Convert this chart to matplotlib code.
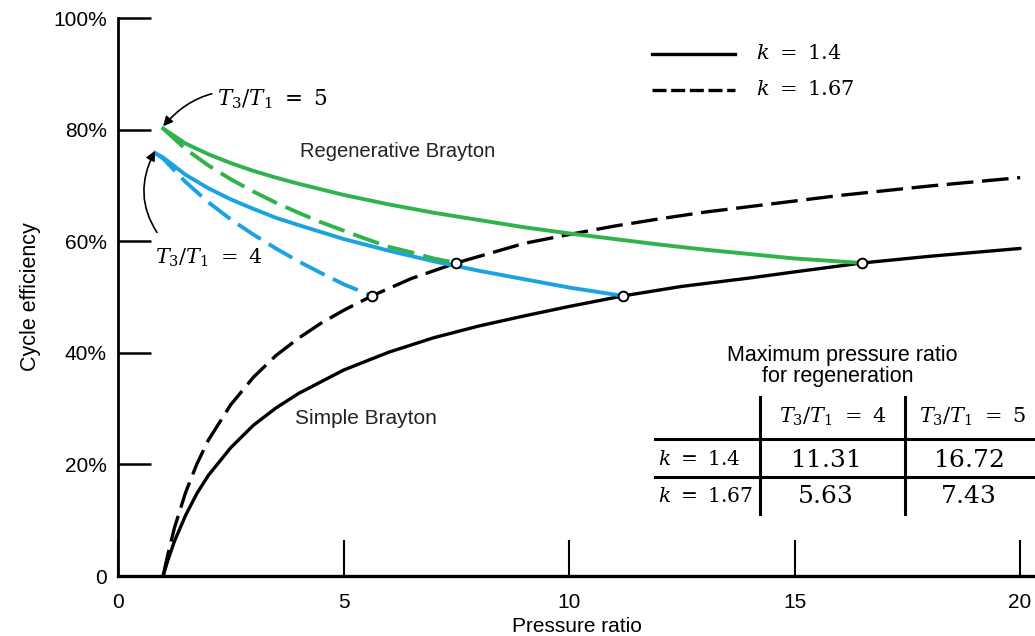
import matplotlib
matplotlib.use("Agg")
import matplotlib.pyplot as plt

plt.rcParams['mathtext.fontset'] = 'dejavuserif'
plt.rcParams['font.family'] = ['Liberation Sans', 'DejaVu Sans']

# ---- data ----
# Simple Brayton, k = 1.4 (solid)
simple14_x = [1.0, 1.1, 1.25, 1.5, 1.75, 2, 2.5, 3, 3.5, 4, 5, 6, 7, 8, 9, 10, 11.2,
              12.5, 14, 15, 16.5, 18, 20]
simple14_y = [0, 2.7, 6.2, 10.9, 14.8, 18.0, 23.0, 27.0, 30.1, 32.7, 36.9, 40.1, 42.7,
              44.8, 46.6, 48.3, 50.2, 51.9, 53.4, 54.5, 56.1, 57.3, 58.7]
# Simple Brayton, k = 1.67 (dashed)
simple167_x = [1.0, 1.1, 1.25, 1.5, 1.75, 2, 2.5, 3, 3.5, 4, 4.5, 5, 5.63, 6.5, 7.5,
               9, 10, 11, 12, 13, 14, 16, 18, 20]
simple167_y = [0, 3.7, 8.6, 15.0, 20.1, 24.3, 30.7, 35.6, 39.5, 42.6, 45.3, 47.6, 50.2,
               53.3, 56.1, 59.6, 61.2, 62.7, 64.0, 65.2, 66.2, 68.2, 69.9, 71.4]
# Regenerative, T3/T1 = 4, k = 1.4 (blue solid)
reg4_14_x = [0.82, 1, 1.5, 2, 2.5, 3, 3.5, 4, 5, 6, 7, 8, 9, 10, 11.2]
reg4_14_y = [75.8, 75.0, 71.9, 69.5, 67.5, 65.8, 64.2, 62.9, 60.4, 58.3, 56.4, 54.7,
             53.2, 51.7, 50.2]
# Regenerative, T3/T1 = 4, k = 1.67 (blue dashed)
reg4_167_x = [0.82, 1, 1.5, 2, 2.5, 3, 3.5, 4, 4.5, 5, 5.63]
reg4_167_y = [75.8, 74.8, 70.6, 67.0, 63.9, 61.2, 58.7, 56.4, 54.3, 52.3, 50.2]
# Regenerative, T3/T1 = 5, k = 1.4 (green solid)
reg5_14_x = [1.0, 1.5, 2, 2.5, 3, 3.5, 4, 5, 6, 7, 8, 9, 10, 11, 12, 13, 14, 15, 16.5]
reg5_14_y = [80.2, 77.5, 75.6, 74.0, 72.6, 71.4, 70.3, 68.3, 66.6, 65.1, 63.8, 62.5,
             61.4, 60.4, 59.4, 58.5, 57.7, 56.9, 56.1]
# Regenerative, T3/T1 = 5, k = 1.67 (green dashed)
reg5_167_x = [1.0, 1.5, 2, 2.5, 3, 3.5, 4, 4.5, 5, 5.5, 6, 6.5, 7, 7.5]
reg5_167_y = [80.2, 76.5, 73.6, 71.1, 68.9, 66.9, 65.1, 63.4, 61.9, 60.4, 59.0, 58.0,
              56.9, 56.1]
# Regeneration limit points
limit_x = [5.63, 7.5, 11.2, 16.5]
limit_y = [50.2, 56.1, 50.2, 56.1]

x_ticks = [0, 5, 10, 15, 20]
y_ticks = [0, 20, 40, 60, 80, 100]
y_ticklabels = ['0', '20%', '40%', '60%', '80%', '100%']

table_cols = [r'$T_3/T_1\ =\ 4$', r'$T_3/T_1\ =\ 5$']
table_rows = [r'$k\ =\ 1.4$', r'$k\ =\ 1.67$']
table_vals = [['11.31', '16.72'], ['5.63', '7.43']]

GREEN = '#2fb34a'
BLUE = '#1aa3e0'

fig = plt.figure(figsize=(10.35, 6.36), dpi=100)
ax = fig.add_axes([118/1035, 60/636, 917/1035, 558/636])
ax.set_xlim(0, 20.33)
ax.set_ylim(0, 100)

dash = (8, 2.6)
lw = 2.4
ax.plot(simple14_x, simple14_y, color='black', lw=lw, solid_capstyle='round')
ax.plot(simple167_x, simple167_y, color='black', lw=lw, dashes=dash)
ax.plot(reg4_14_x, reg4_14_y, color=BLUE, lw=2.8)
ax.plot(reg4_167_x, reg4_167_y, color=BLUE, lw=2.8, dashes=(7, 2.4))
ax.plot(reg5_14_x, reg5_14_y, color=GREEN, lw=2.8)
ax.plot(reg5_167_x, reg5_167_y, color=GREEN, lw=2.8, dashes=(7, 2.4))
ax.plot(limit_x, limit_y, 'o', ms=7, mfc='white', mec='black', mew=1.4, zorder=5)

# axes styling
for s in ['top', 'right']:
    ax.spines[s].set_visible(False)
ax.spines['left'].set_linewidth(2)
ax.spines['bottom'].set_linewidth(2.4)
ax.set_xticks(x_ticks)
ax.set_xticklabels([str(v) for v in x_ticks], fontsize=15)
ax.set_yticks(y_ticks)
ax.set_yticklabels(y_ticklabels, fontsize=15)
ax.tick_params(axis='x', direction='in', length=26, width=1.5, pad=12)
ax.tick_params(axis='y', direction='in', length=24, width=1.8, pad=8)
ax.set_xlabel('Pressure ratio', fontsize=15, labelpad=4)
ax.set_ylabel('Cycle efficiency', fontsize=15.5, labelpad=9)

# labels
ax.text(6.2, 76.1, 'Regenerative Brayton', fontsize=14.5, ha='center', va='center', color='#222222')
ax.text(5.5, 28.2, 'Simple Brayton', fontsize=15, ha='center', va='center', color='#222222')

ax.annotate(r'$T_3/T_1\ =\ 5$', xy=(1.0, 80.6), xytext=(2.2, 85.5), fontsize=15.5,
            ha='left', va='center',
            arrowprops=dict(arrowstyle='-|>', color='black', lw=1.2,
                            shrinkA=2, shrinkB=0, connectionstyle='arc3,rad=0.35',
                            mutation_scale=14))
ax.annotate(r'$T_3/T_1\ =\ 4$', xy=(0.82, 76.2), xytext=(0.82, 57.1), fontsize=15,
            ha='left', va='center',
            arrowprops=dict(arrowstyle='-|>', color='black', lw=1.2,
                            shrinkA=10, shrinkB=0, connectionstyle='arc3,rad=-0.35',
                            mutation_scale=14, relpos=(0.12, 1.0)))

# legend
ax.plot([11.84, 13.68], [93.6, 93.6], color='black', lw=lw)
ax.plot([11.84, 13.68], [87.1, 87.1], color='black', lw=lw, dashes=(4.2, 1.4))
ax.text(14.15, 93.6, r'$k\ =\ 1.4$', fontsize=15, va='center', ha='left')
ax.text(14.15, 87.1, r'$k\ =\ 1.67$', fontsize=15, va='center', ha='left')

# table
ax.text(16.05, 39.6, 'Maximum pressure ratio', fontsize=15.5, ha='center', va='center')
ax.text(15.95, 35.8, 'for regeneration', fontsize=15.5, ha='center', va='center')
for xv in [14.23, 17.45]:
    ax.plot([xv, xv], [11.1, 32.0], color='black', lw=2.2, clip_on=False)
for yv in [24.5, 17.7]:
    ax.plot([11.9, 20.33], [yv, yv], color='black', lw=2.2, clip_on=False)
head_x = [15.85, 18.95]
ax.text(head_x[0], 28.6, table_cols[0], fontsize=15, ha='center', va='center')
ax.text(head_x[1], 28.6, table_cols[1], fontsize=15, ha='center', va='center', clip_on=False)
col_x = [15.68, 18.85]
row_y = [20.8, 14.3]
for i, lab in enumerate(table_rows):
    ax.text(11.97, row_y[i], lab, fontsize=14.5, ha='left', va='center')
    for j in range(2):
        ax.text(col_x[j], row_y[i], '$' + table_vals[i][j] + '$', fontsize=18,
                ha='center', va='center')

fig.savefig('out.png', dpi=100)
